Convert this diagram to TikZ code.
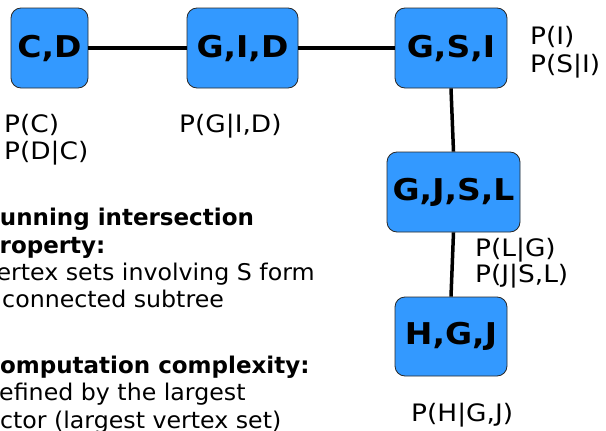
\documentclass[tikz,border=0pt]{standalone}
\usepackage{fontspec}
\setmainfont{DejaVu Sans}[FakeStretch=1.03]
\newfontfamily\labelfont{DejaVu Sans}[FakeStretch=1.1]
\newfontfamily\headfont{DejaVu Sans}
\definecolor{cliqueblue}{RGB}{51,153,255}
\definecolor{cliqueedge}{RGB}{40,40,40}
\begin{document}
\begin{tikzpicture}[x=1pt,y=-1pt,
  clique/.style={draw=cliqueedge, line width=0.8pt, fill=cliqueblue,
    rounded corners=10pt, minimum height=80pt, inner sep=0pt,
    font=\labelfont\bfseries\fontsize{30}{36}\selectfont},
  treeedge/.style={line width=3.5pt},
  factor/.style={anchor=base west, inner sep=0pt,
    font=\labelfont\fontsize{24}{28}\selectfont},
  note/.style={anchor=base west, inner sep=0pt,
    font=\fontsize{23}{28}\selectfont},
  notehead/.style={note, font=\headfont\bfseries\fontsize{23}{28}\selectfont}]
\useasboundingbox (0,0) rectangle (606,431);
\clip (0,0) rectangle (606,431);

% clique tree
\node[clique, minimum width=77pt]  (cd)   at (49.5,48)    {C,D};
\node[clique, minimum width=111pt] (gid)  at (242.5,48)   {G,I,D};
\node[clique, minimum width=112pt] (gsi)  at (451,48)     {G,S,I};
\node[clique, minimum width=133pt] (gjsl) at (453.5,192)  {G,J,S,L};
\node[clique, minimum width=112pt, minimum height=79pt] (hgj) at (451,336.5) {H,G,J};

\draw[treeedge] (cd.east) -- (gid.west);
\draw[treeedge] (gid.east) -- (gsi.west);
\draw[treeedge] (gsi.south) -- (gjsl.north);
\draw[treeedge] (gjsl.south) -- (hgj.north);

% factors assigned to each clique
\node[factor] (fc)   at (4,132.7)   {P(C)};
\node[factor] (fdc)  at (4,159)     {P(D|C)};
\node[factor] (fgid) at (179,132.7) {P(G|I,D)};
\node[factor] (fi)   at (530,45)    {P(I)};
\node[factor] (fsi)  at (530,72)    {P(S|I)};
\node[factor] (flg)  at (475,256)   {P(L|G)};
\node[factor] (fjsl) at (475,282.7) {P(J|S,L)};
\node[factor] (fhgj) at (411,421.7) {P(H|G,J)};

% notes
\node[notehead] (n1) at (-18,225.5) {Running intersection};
\node[notehead] (n2) at (-17,253)   {property:};
\node[note]     (n3) at (-18,280.5) {Vertex sets involving S form};
\node[note]     (n4) at (-20,307.5) {a connected subtree};
\node[notehead] (n5) at (-17,373)   {Computation complexity:};
\node[note]     (n6) at (-16,400.5) {defined by the largest};
\node[note]     (n7) at (-23,428)   {factor (largest vertex set)};
\end{tikzpicture}
\end{document}
